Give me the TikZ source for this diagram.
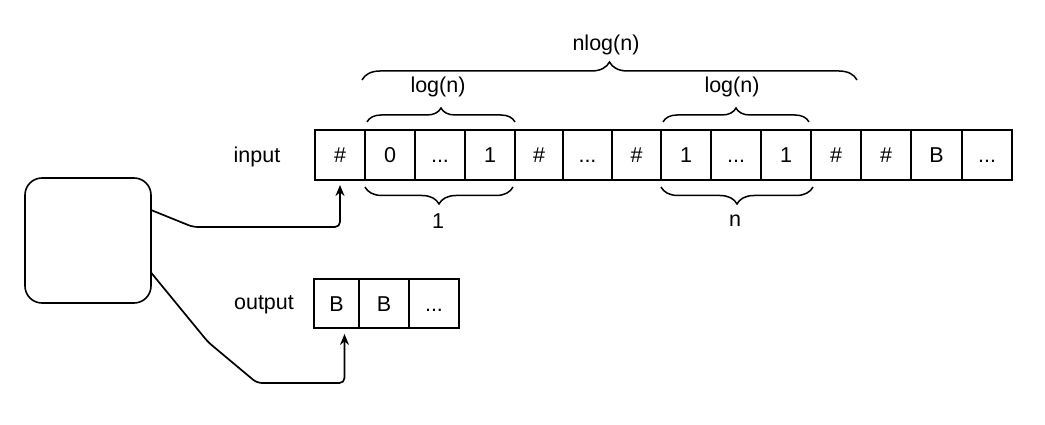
\documentclass[tikz,border=0pt]{standalone}
\usepackage{fontspec}
\setmainfont{Liberation Sans}
\usetikzlibrary{arrows.meta,decorations.pathreplacing}
\newcommand{\tdots}{...}
\begin{document}
\begin{tikzpicture}[x=1pt,y=-1pt,
  font=\fontsize{21.5}{25}\selectfont,
  cell/.style={draw,line width=1.2pt,minimum height=50pt,inner sep=0pt,outer sep=0pt,text height=15.4pt,text depth=0pt},
  lbl/.style={inner sep=0pt},
  conn/.style={line width=1.7pt,rounded corners=5pt,-{Stealth[length=11pt,width=9pt]}},
  brc/.style={decorate,line width=1.5pt,decoration={brace,amplitude=#1}}]
\useasboundingbox (0,0) rectangle (1045,425);
% input tape
\foreach \a/\b/\t/\i in {315/365/\#/0,365/415/0/1,415/465/\tdots/2,465/515/1/3,515/563/\#/4,563/612/\tdots/5,612/661/\#/6,661/711/1/7,711/761/\tdots/8,761/811/1/9,811/861/\#/10,861/911/\#/11,911/962/B/12,962/1012/\tdots/13}
  \node[cell,minimum width={(\b-\a)*1pt}] (in\i) at ({(\a+\b)/2},155) {\t};
% output tape
\foreach \a/\b/\t/\i in {314/359/B/0,359/409/B/1,409/459/\tdots/2}
  \node[cell,minimum width={(\b-\a)*1pt},minimum height=49pt] (out\i) at ({(\a+\b)/2},303.5) {\t};
% control box
\node[draw,line width=1.6pt,rounded corners=17pt,minimum width=126pt,minimum height=125pt,outer sep=0pt] (ctrl) at (88,240.5) {};
% labels
\node[lbl] (linput) at (257,157) {input};
\node[lbl] (loutput) at (264,305) {output};
\node[lbl] (lnlog) at (606,45) {nlog(n)};
\node[lbl] (llog1) at (438,87) {log(n)};
\node[lbl] (llog2) at (732,87) {log(n)};
\node[lbl] (lone) at (438,221) {1};
\node[lbl] (ln) at (735,221) {n};
% braces
\draw[brc=18pt] (362,80) -- (857,80);
\draw[brc=14pt] (367,122) -- (515,122);
\draw[brc=14pt] (663,122) -- (809,122);
\draw[brc=17pt] (513,187) -- (365,187);
\draw[brc=17pt] (813,187) -- (661,187);
% connectors
\coordinate (b1) at (193,227);
\coordinate (b2) at (208,342);
\coordinate (b3) at (257,383);
\draw[conn,shorten >=5pt] ([yshift=30.5pt]ctrl.east) -- (b1) -- (in0.south |- b1) -- (in0.south);
\draw[conn,shorten >=6pt] ([yshift=-32pt]ctrl.east) -- (b2) -- (b3) -- ([xshift=8pt]out0.south |- b3) -- ([xshift=8pt]out0.south);
\end{tikzpicture}
\end{document}
